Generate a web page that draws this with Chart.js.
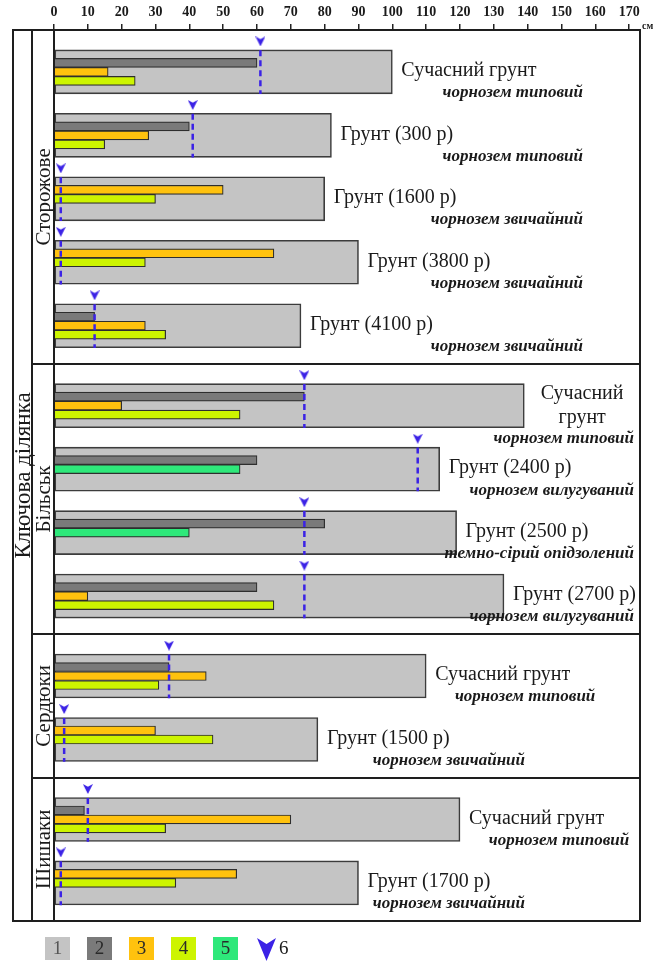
<!DOCTYPE html>
<html>
<head>
<meta charset="utf-8">
<script src="https://cdn.jsdelivr.net/npm/chart.js@4.4.1/dist/chart.umd.min.js"></script>
<style>
  html, body { margin: 0; padding: 0; background: #fff; }
  canvas { display: block; }
</style>
</head>
<body>
<canvas id="soilChart" width="655" height="965"></canvas>
<script>
// key area and its sites, with how many soil profiles each site has
const areaTitle = 'Ключова ділянка'
const sites = ['Сторожове', 'Більськ', 'Сердюки', 'Шишаки']
const siteCounts = [5, 4, 2, 2]

// profile captions, top to bottom
const profileNames = [
  'Сучасний грунт', 'Грунт (300 р)', 'Грунт (1600 р)', 'Грунт (3800 р)', 'Грунт (4100 р)',
  'Сучасний грунт', 'Грунт (2400 р)', 'Грунт (2500 р)', 'Грунт (2700 р)',
  'Сучасний грунт', 'Грунт (1500 р)',
  'Сучасний грунт', 'Грунт (1700 р)'
]
const soilTypes = [
  'чорнозем типовий', 'чорнозем типовий', 'чорнозем звичайний', 'чорнозем звичайний', 'чорнозем звичайний',
  'чорнозем типовий', 'чорнозем вилугуваний', 'темно-сірий опідзолений', 'чорнозем вилугуваний',
  'чорнозем типовий', 'чорнозем звичайний',
  'чорнозем типовий', 'чорнозем звичайний'
]

// depths in cm, legend series 1..6
const depth1 = [100, 82, 80, 90, 73, 139, 114, 119, 133, 110, 78, 120, 90]
const depth2 = [60, 40, null, null, 12, 74, 60, 80, 60, 34, null, 9, null]
const depth3 = [16, 28, 50, 65, 27, 20, null, null, 10, 45, 30, 70, 54]
const depth4 = [24, 15, 30, 27, 33, 55, null, null, 65, 31, 47, 33, 36]
const depth5 = [null, null, null, null, null, null, 55, 40, null, null, null, null, null]
const depth6 = [61, 41, 2, 2, 12, 74, 107.5, 74, 74, 34, 3, 10, 2]

// axis
const legendLabels = ['1', '2', '3', '4', '5', '6']
const tickStep = 10
const tickLast = 170
const axisUnit = 'см'

// styling / layout
const colors = ['#c4c4c4', '#7a7a7a', '#ffc20e', '#cdf400', '#2ee87a', '#3b22e6']
const SERIF = '"Liberation Serif", "DejaVu Serif", serif'
const ROW_TOP = 0.66      // first profile offset inside a site block (rows)
const SITE_EXTRA = 0.26   // extra space per site block (rows)
const SUB_RIGHT = [583, 634, 525, 525] // right edge of soil type captions per site, px
const FRAME_L = 13, COL_L = 32

// row positions on the vertical scale
const rowPos = [], rowSite = [], siteStart = []
let u = 0
siteCounts.forEach((n, s) => {
  siteStart.push(u)
  for (let k = 0; k < n; k++) { rowPos.push(u + ROW_TOP + k); rowSite.push(s) }
  u += n + SITE_EXTRA
})
const yMax = u

// thin bars go into consecutive slots under the top of the big bar
const thin = [depth2, depth3, depth4, depth5]
const slots = [[], [], []]
rowPos.forEach((p, i) => {
  let k = 0
  thin.forEach((arr, s) => {
    if (arr[i] != null) slots[k++].push({ x: arr[i], y: p, s: s + 1 })
  })
})

const markLines = []
depth6.forEach((v, i) => {
  markLines.push({ x: v, y: rowPos[i] - 0.34 }, { x: v, y: rowPos[i] + 0.35 }, { x: null, y: rowPos[i] + 0.5 })
})
const markHeads = depth6.map((v, i) => ({ x: v, y: rowPos[i] - 0.48 }))

function arrowHead(w, h, color) {
  const c = document.createElement('canvas')
  c.width = w; c.height = h
  const g = c.getContext('2d')
  g.fillStyle = color
  g.beginPath()
  g.moveTo(0, 0); g.lineTo(w / 2, h * 0.28); g.lineTo(w, 0); g.lineTo(w / 2, h)
  g.closePath(); g.fill()
  return c
}
const head = arrowHead(10, 10, colors[5])

const frame = {
  id: 'frame',
  afterDraw(chart) {
    const ctx = chart.ctx
    const { left, right, top, bottom } = chart.chartArea
    const x = chart.scales.x, y = chart.scales.y
    const line = (x1, y1, x2, y2) => { ctx.beginPath(); ctx.moveTo(x1, y1); ctx.lineTo(x2, y2); ctx.stroke() }
    ctx.save()
    ctx.strokeStyle = '#1e1e1e'
    ctx.lineWidth = 2
    ctx.strokeRect(FRAME_L, top, right - FRAME_L, bottom - top)
    line(COL_L, top, COL_L, bottom)
    line(left, top, left, bottom)
    siteStart.slice(1).forEach(s => {
      const py = Math.round(y.getPixelForValue(s))
      line(COL_L, py, right, py)
    })

    // rotated site names
    ctx.fillStyle = '#1a1a1a'
    ctx.textAlign = 'center'
    ctx.textBaseline = 'middle'
    ctx.font = '21px ' + SERIF
    sites.forEach((name, s) => {
      const cy = y.getPixelForValue(siteStart[s] + (siteCounts[s] + SITE_EXTRA) / 2)
      ctx.save(); ctx.translate((COL_L + left) / 2 + 1, cy); ctx.rotate(-Math.PI / 2)
      ctx.fillText(name, 0, 0); ctx.restore()
    })
    ctx.font = '23px ' + SERIF
    ctx.save(); ctx.translate((FRAME_L + COL_L) / 2 + 1, (top + bottom) / 2); ctx.rotate(-Math.PI / 2)
    ctx.fillText(areaTitle, 0, 0); ctx.restore()

    // profile captions
    rowPos.forEach((p, i) => {
      const cy = y.getPixelForValue(p)
      const barEnd = x.getPixelForValue(depth1[i])
      ctx.font = '20px ' + SERIF
      const w = ctx.measureText(profileNames[i]).width
      let mainRight, subY = cy + 21
      if (barEnd + 9 + w > right - 4) {
        const words = profileNames[i].split(' ')
        const cx = (barEnd + right) / 2
        ctx.textAlign = 'center'
        words.forEach((wd, k) => ctx.fillText(wd, cx, cy - 12 + k * 24))
        mainRight = right
        subY = cy + 33
      } else {
        ctx.textAlign = 'left'
        ctx.fillText(profileNames[i], barEnd + 9, cy - 1)
        mainRight = barEnd + 9 + w
      }
      ctx.font = 'italic bold 17px ' + SERIF
      ctx.textAlign = 'right'
      const sr = Math.min(right - 6, Math.max(mainRight + 25, SUB_RIGHT[rowSite[i]]))
      ctx.fillText(soilTypes[i], sr, subY)
    })

    // unit
    ctx.font = 'bold 10px ' + SERIF
    ctx.textAlign = 'left'
    ctx.textBaseline = 'alphabetic'
    ctx.fillText(axisUnit, right + 2, top - 1)

    // legend
    const ly = 937, bw = 25, bh = 23
    ctx.font = '19px ' + SERIF
    ctx.textAlign = 'center'
    ctx.textBaseline = 'middle'
    legendLabels.forEach((lab, k) => {
      const lx = 45 + k * 42
      if (k < 5) {
        ctx.fillStyle = colors[k]
        ctx.fillRect(lx, ly, bw, bh)
        ctx.fillStyle = k === 0 ? '#555' : '#2a2a2a'
        ctx.fillText(lab, lx + bw / 2, ly + bh / 2 + 1)
      } else {
        ctx.fillStyle = colors[5]
        ctx.beginPath()
        ctx.moveTo(lx + 2, ly + 1); ctx.lineTo(lx + 11.5, ly + 7); ctx.lineTo(lx + 21, ly + 1); ctx.lineTo(lx + 11.5, ly + 24)
        ctx.closePath(); ctx.fill()
        ctx.fillStyle = '#1a1a1a'
        ctx.textAlign = 'left'
        ctx.fillText(lab, lx + 24, ly + bh / 2 + 1)
      }
    })
    ctx.restore()
  }
}

const datasets = [
  {
    type: 'line', label: legendLabels[5], data: markLines, order: 0,
    borderColor: colors[5], borderWidth: 2.5, borderDash: [6, 4],
    pointRadius: 0, spanGaps: false, fill: false
  },
  {
    type: 'scatter', label: legendLabels[5], data: markHeads, order: 0,
    pointStyle: head, pointRadius: 5, clip: false
  },
  ...slots.map((d, k) => ({
    type: 'bar', label: 'slot' + k, data: d, order: 1, stack: 's' + k,
    backgroundColor: ctx => colors[ctx.raw ? ctx.raw.s : 1],
    borderColor: '#2e2e2e', borderWidth: 1.2,
    barThickness: 9
  })),
  {
    type: 'bar', label: legendLabels[0], order: 2, grouped: false, stack: 'g',
    data: depth1.map((v, i) => ({ x: v, y: rowPos[i] })),
    backgroundColor: colors[0], borderColor: '#3c3c3c', borderWidth: 1.6, borderSkipped: false,
    categoryPercentage: 1, barPercentage: 1, maxBarThickness: 44
  }
]

new Chart(document.getElementById('soilChart'), {
  type: 'bar',
  data: { datasets },
  options: {
    indexAxis: 'y',
    responsive: false,
    animation: false,
    devicePixelRatio: 1,
    layout: { padding: { left: 54, right: 15, top: 0, bottom: 44 } },
    plugins: { legend: { display: false }, tooltip: { enabled: false } },
    scales: {
      x: {
        type: 'linear', position: 'top', min: 0, max: 173.2,
        afterFit: scale => { scale.height = 30 },
        grid: { drawOnChartArea: false, drawTicks: true, tickLength: 6, color: '#222', lineWidth: 1.5 },
        border: { display: true, color: '#1e1e1e', width: 2 },
        ticks: {
          stepSize: tickStep, includeBounds: false, autoSkip: false, maxRotation: 0, padding: 3,
          color: '#1a1a1a', font: { family: SERIF, weight: 'bold', size: 14 },
          callback: v => (v <= tickLast ? v : '')
        }
      },
      y: {
        type: 'linear', display: false, reverse: true, offset: false, min: 0, max: yMax,
        ticks: { stepSize: 1 }
      }
    }
  },
  plugins: [frame]
})
</script>
</body>
</html>
